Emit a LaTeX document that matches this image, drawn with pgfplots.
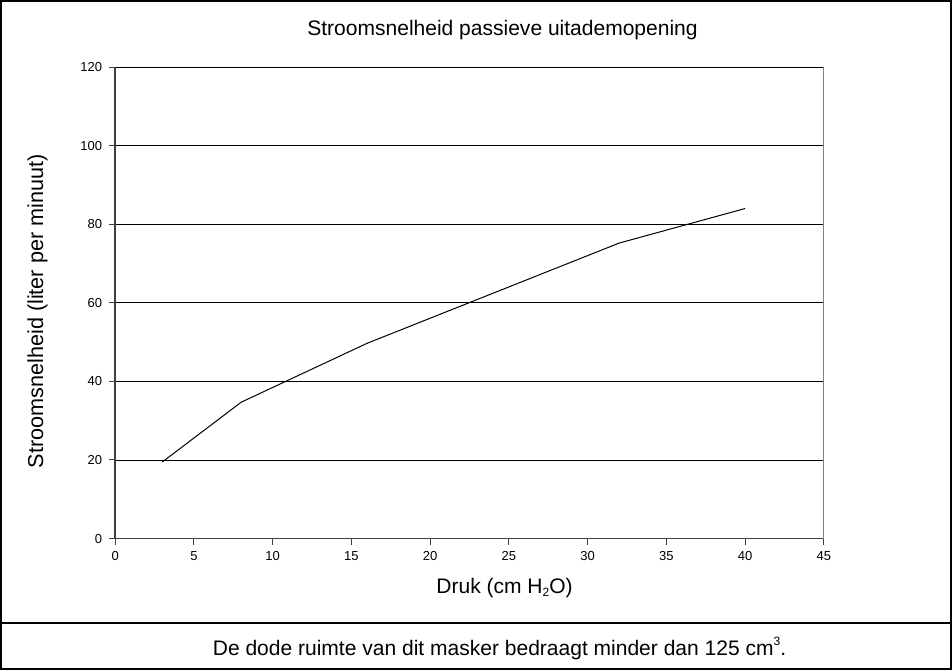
\documentclass[border=0pt]{standalone}
\usepackage{fontspec}
\setmainfont{Liberation Sans}
\usepackage{pgfplots}
\pgfplotsset{compat=1.18}

\newcommand{\smallsub}[1]{\raisebox{-0.25ex}{\fontsize{6}{7}\selectfont #1}}
\newcommand{\smallsup}[1]{\raisebox{0.95ex}{\fontsize{6}{7}\selectfont #1}}

\begin{document}
\begin{tikzpicture}
% 1 pixel of the reference = 0.5pt, origin at the lower left of the plot area
\begin{axis}[
  at={(0,0)}, anchor=south west,
  scale only axis,
  width=354pt, height=235.5pt,
  xmin=0, xmax=45, ymin=0, ymax=120,
  xtick={0,5,...,45},
  ytick={0,20,...,120},
  axis lines*=left,
  axis line style={draw=black!75, line width=0.7pt, -},
  tick align=outside,
  major tick length=3pt,
  tick style={draw=black!75, line width=0.5pt},
  ymajorgrids,
  major grid style={draw=black, line width=0.45pt},
  /pgf/number format/assume math mode=true,
  ticklabel style={font=\fontsize{6.5}{7.5}\selectfont},
  clip=false,
]
\addplot[black, line width=0.5pt] coordinates {
  (3,19.5) (8,34.7) (16,49.7) (32,75.2) (40,84)
};
\draw[gray, line width=0.5pt] (rel axis cs:1,0) -- (rel axis cs:1,1);
\end{axis}

% frame and caption box
\draw[black, line width=1pt] (-57pt,-65pt) rectangle (417.5pt,268.5pt);
\draw[black, line width=1pt] (-57pt,-42pt) -- (417.5pt,-42pt);

\node[anchor=base, inner sep=0pt, font=\fontsize{10.5}{12}\selectfont]
  at (193.5pt,251.5pt) {Stroomsnelheid passieve uitademopening};
\node[anchor=base, inner sep=0pt, font=\fontsize{10.5}{12}\selectfont]
  at (194.5pt,-27.5pt) {Druk (cm H\smallsub{2}O)};
\node[anchor=base, inner sep=0pt, rotate=90, font=\fontsize{10.8}{12}\selectfont]
  at (-36pt,113.5pt) {Stroomsnelheid (liter per minuut)};
\node[anchor=base, inner sep=0pt, font=\fontsize{10.5}{12}\selectfont]
  at (192pt,-58.5pt) {De dode ruimte van dit masker bedraagt minder dan 125 cm\smallsup{3}.};
\end{tikzpicture}
\end{document}
